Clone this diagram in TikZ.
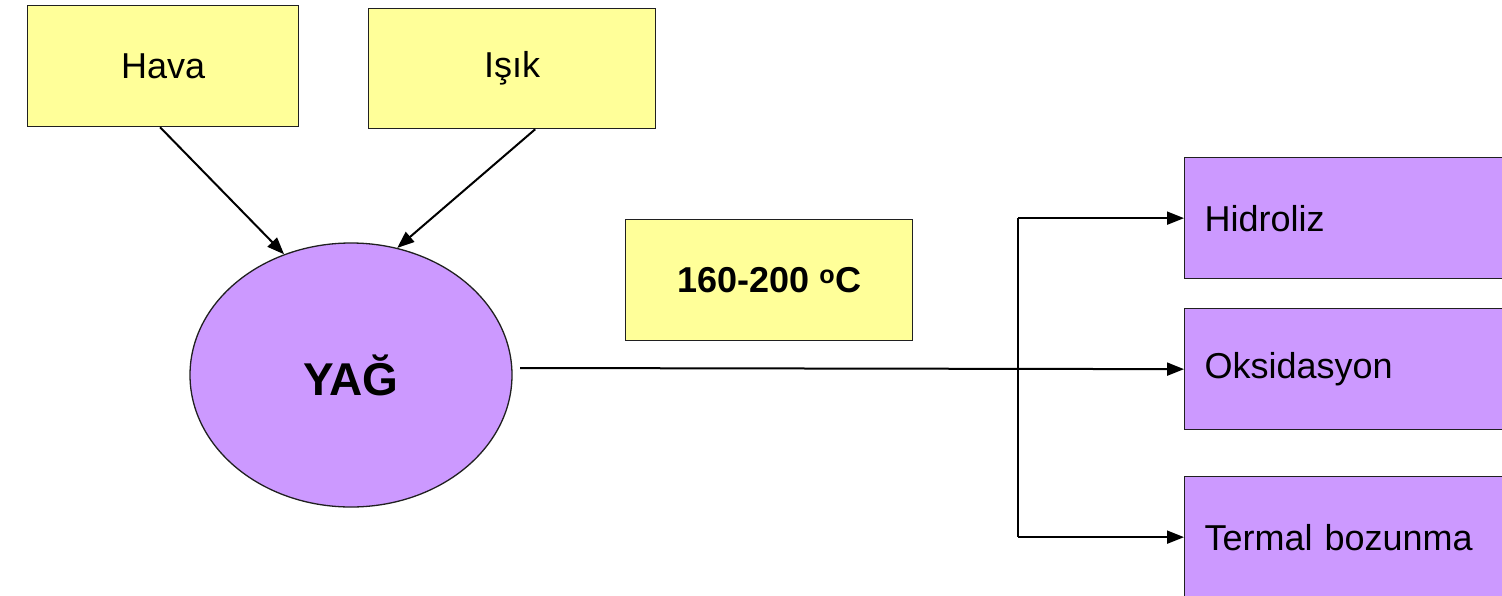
\documentclass[tikz,border=0pt]{standalone}
\usepackage{fontspec}
\setmainfont{Liberation Sans}
\usetikzlibrary{arrows.meta,shapes.geometric}
\definecolor{paleyellow}{HTML}{FFFF99}
\definecolor{lilac}{HTML}{CC99FF}
\definecolor{edge}{HTML}{202020}
\begin{document}
\begin{tikzpicture}[x=1pt,y=-1pt,
  every node/.style={font=\fontsize{36}{40}\selectfont},
  ybox/.style={draw=edge,line width=1.3pt,fill=paleyellow,inner sep=0pt},
  pbox/.style={draw=edge,line width=1.3pt,fill=lilac,inner sep=0pt},
  rbox/.style={pbox,anchor=north west,minimum width=326pt,minimum height=121pt,
    text width=286pt,inner xsep=20pt,align=left},
  arr/.style={line width=2pt,-{Triangle[length=17pt,width=13pt]}},
  link/.style={line width=2pt}]
  \clip (0,0) rectangle (1502,595);
  \fill[white] (0,0) rectangle (1502,595);

  % sources
  \node[ybox,minimum width=271pt,minimum height=121pt,anchor=north west] (hava) at (27,5) {Hava};
  \node[ybox,minimum width=287pt,minimum height=120pt,anchor=north west] (isik) at (368,8) {Işık};

  % oil
  \node[pbox,ellipse,minimum width=322pt,minimum height=264pt,
        font=\fontsize{46}{50}\selectfont\bfseries] (yag) at (351,375) {YAĞ};

  % frying temperature
  \node[ybox,minimum width=287pt,minimum height=121pt,anchor=north west,
        font=\fontsize{36}{40}\selectfont\bfseries] (temp) at (625,219) {160-200 \textsuperscript{o}C};

  % reactions
  \node[rbox] (hid) at (1184,157) {Hidroliz};
  \node[rbox] (oks) at (1184,308) {Oksidasyon};
  \node[rbox] (ter) at (1184,476) {Termal bozunma};

  % connectors
  \draw[arr] ([xshift=-3pt]hava.south) -- (yag.119);
  \draw[arr] ([xshift=23pt]isik.south) -- (yag.70);

  \coordinate (start) at (520,368);
  \coordinate (jx) at (1018,368);
  \draw[arr] (start) -- (oks.west);
  \draw[link] (hid.west -| jx) -- (ter.west -| jx);
  \draw[arr] (hid.west -| jx) -- (hid.west);
  \draw[arr] (ter.west -| jx) -- (ter.west);
\end{tikzpicture}
\end{document}
